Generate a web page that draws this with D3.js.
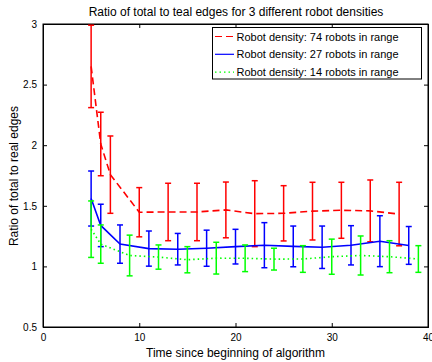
<!DOCTYPE html>
<html>
<head>
<meta charset="utf-8">
<script src="https://cdn.jsdelivr.net/npm/d3@7"></script>
<style>
  html, body { margin: 0; padding: 0; background: #fff; }
  svg { display: block; font-family: "Liberation Sans", Arial, Helvetica, sans-serif; }
</style>
</head>
<body>
<svg id="chart" width="432" height="362"></svg>
<script>
// Time samples for each robot density
const timeDense = [5, 6, 7, 10, 13, 16, 19, 22, 25, 28, 31, 34, 37];
const timeMedium = [5, 6, 8, 11, 14, 17, 20, 23, 26, 29, 32, 35, 38];
const timeSparse = [5, 6, 9, 12, 15, 18, 21, 24, 27, 30, 33, 36, 39];

// Mean ratio and error half-width per sample
const meanDense = [2.65, 2.01, 1.757, 1.447, 1.449, 1.449, 1.466, 1.435, 1.438, 1.456, 1.463, 1.458, 1.432];
const errDense  = [0.34, 0.262, 0.319, 0.203, 0.237, 0.237, 0.23, 0.272, 0.228, 0.238, 0.231, 0.255, 0.262];

const meanMedium = [1.56, 1.338, 1.184, 1.147, 1.142, 1.15, 1.163, 1.175, 1.165, 1.158, 1.174, 1.208, 1.173];
const errMedium  = [0.227, 0.175, 0.158, 0.145, 0.13, 0.149, 0.143, 0.186, 0.168, 0.175, 0.162, 0.21, 0.156];

const meanSparse = [1.307, 1.184, 1.09, 1.077, 1.055, 1.068, 1.067, 1.06, 1.061, 1.08, 1.09, 1.08, 1.061];
const errSparse  = [0.233, 0.158, 0.168, 0.1, 0.108, 0.131, 0.11, 0.09, 0.11, 0.145, 0.161, 0.132, 0.11];

const seriesLabels = [
  "Robot density: 74 robots in range",
  "Robot density: 27 robots in range",
  "Robot density: 14 robots in range"
];
const xTicks = [0, 10, 20, 30, 40];
const yTicks = [0.5, 1, 1.5, 2, 2.5, 3];

const series = [
  { t: timeDense,  m: meanDense,  e: errDense,  color: "#ff0000", dash: "7,4",   label: seriesLabels[0] },
  { t: timeMedium, m: meanMedium, e: errMedium, color: "#0000ff", dash: null,    label: seriesLabels[1] },
  { t: timeSparse, m: meanSparse, e: errSparse, color: "#00ff00", dash: "1.5,3", label: seriesLabels[2] }
];

const svg = d3.select("#chart");
const plotL = 43, plotR = 428, plotT = 24, plotB = 327;

const x = d3.scaleLinear().domain([0, 40]).range([plotL, plotR]);
const y = d3.scaleLinear().domain([0.5, 3]).range([plotB, plotT]);

// Plot frame
svg.append("rect")
  .attr("x", plotL).attr("y", plotT)
  .attr("width", plotR - plotL).attr("height", plotB - plotT)
  .attr("fill", "#fff").attr("stroke", "#000").attr("stroke-width", 1);

// Axes with inward ticks on all four sides
const tickLen = 4;
const axB = svg.append("g").attr("transform", `translate(0,${plotB})`)
  .call(d3.axisBottom(x).tickValues(xTicks).tickSize(-tickLen).tickPadding(7).tickFormat(d3.format("d")));
const axT = svg.append("g").attr("transform", `translate(0,${plotT})`)
  .call(d3.axisTop(x).tickValues(xTicks).tickSize(-tickLen).tickFormat(""));
const axL = svg.append("g").attr("transform", `translate(${plotL},0)`)
  .call(d3.axisLeft(y).tickValues(yTicks).tickSize(-tickLen).tickPadding(6).tickFormat(d => String(d)));
const axR = svg.append("g").attr("transform", `translate(${plotR},0)`)
  .call(d3.axisRight(y).tickValues(yTicks).tickSize(-tickLen).tickFormat(""));
[axB, axT, axL, axR].forEach(a => {
  a.select(".domain").attr("stroke", "#000");
  a.selectAll(".tick line").attr("stroke", "#000");
  a.selectAll(".tick text").attr("fill", "#000").style("font-size", "10px")
    .style("font-family", "'Liberation Sans', Arial, sans-serif");
});

// Data: error bars and mean lines
const cap = 3;
series.forEach(s => {
  const pts = s.t.map((t, i) => ({ t, m: s.m[i], e: s.e[i] }));
  const g = svg.append("g");
  const bars = g.selectAll("g.bar").data(pts).join("g").attr("class", "bar")
    .attr("stroke", s.color).attr("stroke-width", 1.5).attr("fill", "none");
  bars.append("line")
    .attr("x1", d => x(d.t)).attr("x2", d => x(d.t))
    .attr("y1", d => y(d.m - d.e)).attr("y2", d => y(Math.min(3, d.m + d.e)));
  bars.append("line")
    .attr("x1", d => x(d.t) - cap).attr("x2", d => x(d.t) + cap)
    .attr("y1", d => y(d.m - d.e)).attr("y2", d => y(d.m - d.e));
  bars.append("line")
    .attr("x1", d => x(d.t) - cap).attr("x2", d => x(d.t) + cap)
    .attr("y1", d => y(Math.min(3, d.m + d.e))).attr("y2", d => y(Math.min(3, d.m + d.e)));
  g.append("path").datum(pts)
    .attr("fill", "none").attr("stroke", s.color).attr("stroke-width", 1.6)
    .attr("stroke-dasharray", s.dash)
    .attr("d", d3.line().x(d => x(d.t)).y(d => y(d.m)));
});

// Legend
const lg = svg.append("g");
lg.append("rect").attr("x", 212.5).attr("y", 27.5).attr("width", 209).attr("height", 51.5)
  .attr("fill", "#fff").attr("stroke", "#000").attr("stroke-width", 1);
series.forEach((s, i) => {
  const ly = 36.5 + i * 17.8;
  lg.append("line").attr("x1", 215).attr("x2", 234).attr("y1", ly).attr("y2", ly)
    .attr("stroke", s.color).attr("stroke-width", 1.2).attr("stroke-dasharray", s.dash);
  lg.append("text").attr("x", 236.5).attr("y", ly + 4).text(s.label)
    .style("font-size", "11px").attr("fill", "#000");
});

// Title and axis labels
svg.append("text").attr("x", 236).attr("y", 16).attr("text-anchor", "middle")
  .style("font-size", "12px").text("Ratio of total to teal edges for 3 different robot densities");
svg.append("text").attr("x", 235.5).attr("y", 357).attr("text-anchor", "middle")
  .style("font-size", "12px").text("Time since beginning of algorithm");
svg.append("text").attr("transform", "translate(18,176) rotate(-90)").attr("text-anchor", "middle")
  .style("font-size", "12px").text("Ratio of total to real edges");
</script>
</body>
</html>
